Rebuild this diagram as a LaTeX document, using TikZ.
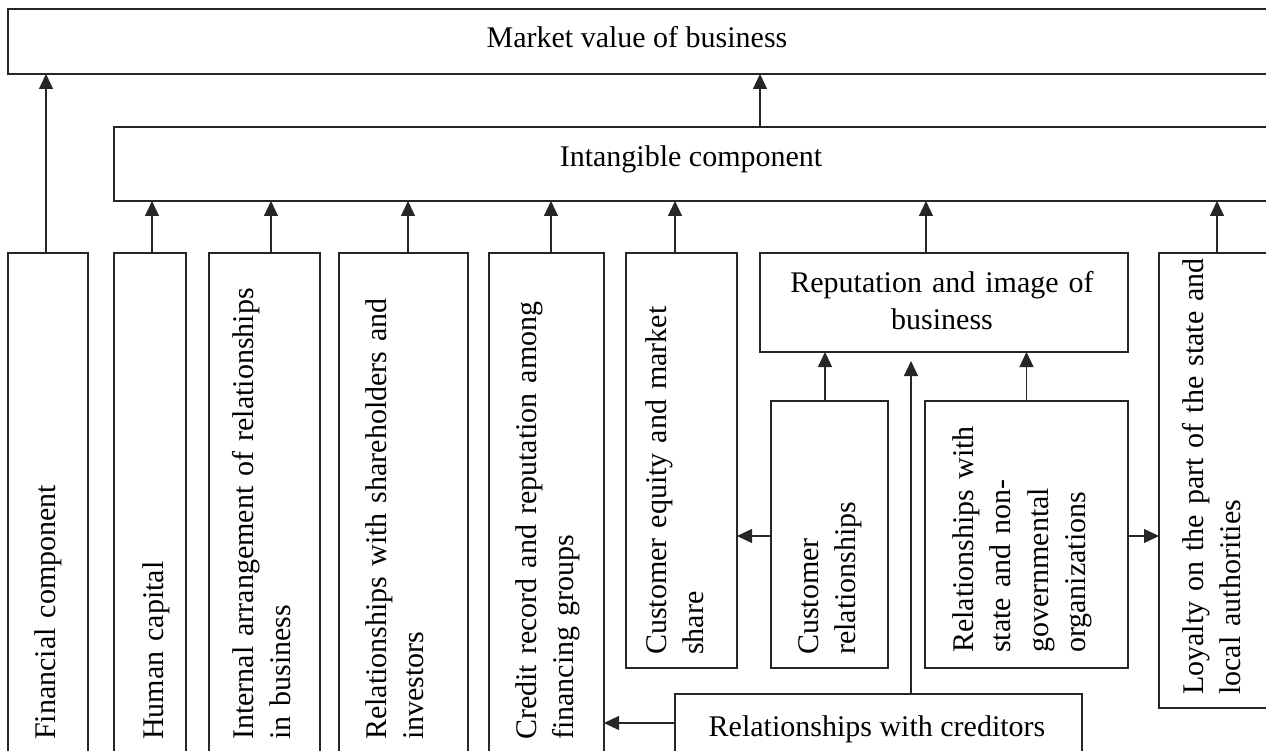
\documentclass[tikz,border=0pt]{standalone}
\usepackage{fontspec}
\setmainfont{Liberation Serif}
\usetikzlibrary{arrows.meta}
\begin{document}
\begin{tikzpicture}[x=1pt,y=-1pt,
  box/.style={draw=black!85, line width=1.2pt, anchor=north west, inner sep=0pt, outer sep=0pt},
  arr/.style={line width=1.2pt, draw=black!85, -{Triangle[length=15pt,width=14pt]}},
  ht/.style={inner sep=0pt, anchor=base, font=\fontsize{30}{37}\selectfont},
  vt/.style={rotate=90, anchor=base west, inner sep=0pt, text width=480pt, align=left, font=\fontsize{30}{37.5}\selectfont}]
\useasboundingbox (0,0) rectangle (1266,751);
\clip (0,0) rectangle (1266,751);
\fill[white] (0,0) rectangle (1266,751);
% boxes
\node[box, minimum width=1292pt, minimum height=65pt] (mv) at (8,9) {};
\node[box, minimum width=1186pt, minimum height=74pt] (ic) at (114,127) {};
\node[box, minimum width=80pt, minimum height=560pt] (fin) at (8,253) {};
\node[box, minimum width=72pt, minimum height=560pt] (hum) at (114,253) {};
\node[box, minimum width=111pt, minimum height=560pt] (int) at (209,253) {};
\node[box, minimum width=129pt, minimum height=560pt] (sha) at (339,253) {};
\node[box, minimum width=115pt, minimum height=560pt] (cre) at (489,253) {};
\node[box, minimum width=111pt, minimum height=415pt] (ceq) at (626,253) {};
\node[box, minimum width=368pt, minimum height=99pt] (rep) at (760,253) {};
\node[box, minimum width=117pt, minimum height=267pt] (cr) at (771,401) {};
\node[box, minimum width=203pt, minimum height=267pt] (rs) at (925,401) {};
\node[box, minimum width=160pt, minimum height=455pt] (loy) at (1159,253) {};
\node[box, minimum width=407pt, minimum height=120pt] (cred) at (675,694) {};
% horizontal texts
\node[ht] (t-mv) at (637,48) {Market value of business};
\node[ht] (t-ic) at (691,167) {Intangible component};
\node[ht, text width=360pt, align=center] (t-rep) at (942,293) {Reputation and image of\\business};
\node[ht] (t-cred) at (877,736) {Relationships with creditors};
% vertical texts
\node[vt] (t-fin) at (55,740) {Financial component};
\node[vt] (t-hum) at (163,740) {Human capital};
\node[vt] (t-int) at (253,740) {Internal arrangement of relationships\\in business};
\node[vt] (t-sha) at (386,740) {Relationships with shareholders and\\investors};
\node[vt] (t-cre) at (536,740) {Credit record and reputation among\\financing groups};
\node[vt] (t-ceq) at (666,655) {Customer equity and market\\share};
\node[vt] (t-cr) at (818,655) {Customer\\relationships};
\node[vt] (t-rs) at (973,653) {Relationships with\\state and non-\\governmental\\organizations};
\node[vt] (t-loy) at (1203,695) {Loyalty on the part of the state and\\local authorities};
% connectors
\draw[arr] ([xshift=-2pt]fin.north) -- ([xshift=-2pt]fin.north |- mv.south);
\draw[arr] ([xshift=646pt]ic.north west) -- ([xshift=646pt]ic.north west |- mv.south);
\draw[arr] ([xshift=2pt]hum.north) -- ([xshift=2pt]hum.north |- ic.south);
\draw[arr] ([xshift=6.5pt]int.north) -- ([xshift=6.5pt]int.north |- ic.south);
\draw[arr] ([xshift=4.5pt]sha.north) -- ([xshift=4.5pt]sha.north |- ic.south);
\draw[arr] ([xshift=4.5pt]cre.north) -- ([xshift=4.5pt]cre.north |- ic.south);
\draw[arr] ([xshift=-6.5pt]ceq.north) -- ([xshift=-6.5pt]ceq.north |- ic.south);
\draw[arr] ([xshift=-18pt]rep.north) -- ([xshift=-18pt]rep.north |- ic.south);
\draw[arr] ([xshift=58pt]loy.north west) -- ([xshift=58pt]loy.north west |- ic.south);
\draw[arr] ([xshift=-4.5pt]cr.north) -- ([xshift=-4.5pt]cr.north |- rep.south);
\draw[arr] (rs.north) -- (rs.north |- rep.south);
\draw[arr] ([yshift=-1.5pt]cr.west) -- ([yshift=-1.5pt]cr.west -| ceq.east);
\draw[arr] ([yshift=-1.5pt]rs.east) -- ([yshift=-1.5pt]rs.east -| loy.west);
\coordinate (credtip) at (911,361);
\draw[arr] ([xshift=236pt]cred.north west) -- (credtip);
\draw[arr] ([yshift=-29pt]cred.north west) -- ([yshift=-29pt]cred.north west -| cre.east);
\end{tikzpicture}
\end{document}
